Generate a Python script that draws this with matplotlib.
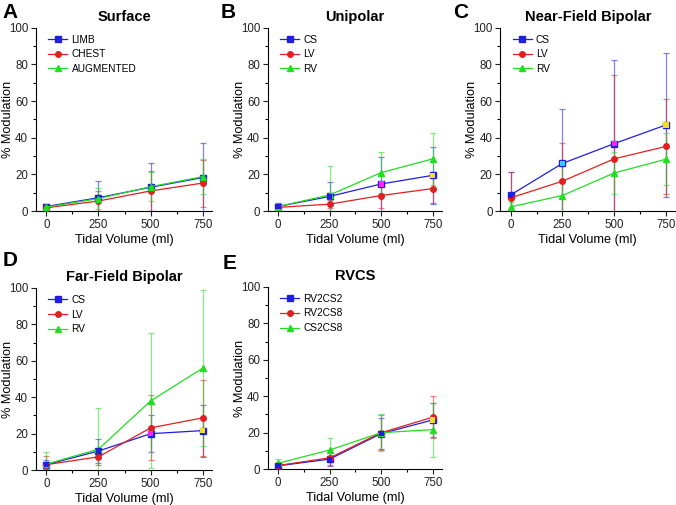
import numpy as np
import matplotlib
matplotlib.use('Agg')
import matplotlib.pyplot as plt

plt.rcParams['font.family'] = ['Liberation Sans', 'DejaVu Sans']

volume = [0, 250, 500, 750]

# A - Surface
surf_names = ['LIMB', 'CHEST', 'AUGMENTED']
surf_mean = [[2.5, 7.3, 13.0, 18.3],
             [1.8, 5.5, 11.0, 15.3],
             [2.2, 6.8, 13.3, 18.8]]
surf_sd = [[1.5, 9.2, 13.0, 18.7],
           [1.5, 5.5, 11.0, 12.8],
           [1.8, 5.7, 8.0, 9.7]]

# B - Unipolar
uni_names = ['CS', 'LV', 'RV']
uni_mean = [[2.5, 8.0, 14.8, 19.5],
            [2.0, 3.8, 8.5, 12.3],
            [2.5, 8.8, 21.0, 28.5]]
uni_sd = [[2.0, 8.0, 14.7, 15.5],
          [1.0, 2.0, 7.0, 7.8],
          [2.0, 15.7, 11.0, 14.0]]

# C - Near-Field Bipolar
nf_names = ['CS', 'LV', 'RV']
nf_mean = [[8.8, 26.0, 36.8, 47.0],
           [7.2, 16.3, 28.5, 35.3],
           [2.3, 8.5, 20.8, 28.3]]
nf_sd = [[12.7, 29.8, 45.7, 39.5],
         [14.3, 20.7, 45.5, 26.0],
         [2.7, 17.0, 11.7, 14.3]]

# D - Far-Field Bipolar
ff_names = ['CS', 'LV', 'RV']
ff_mean = [[3.0, 10.5, 20.0, 21.7],
           [3.0, 7.3, 23.2, 28.7],
           [3.3, 11.5, 38.0, 56.0]]
ff_sd = [[2.5, 6.8, 10.0, 14.3],
         [4.5, 4.3, 17.8, 20.8],
         [6.7, 22.5, 37.0, 43.0]]

# E - RVCS
rvcs_names = ['RV2CS2', 'RV2CS8', 'CS2CS8']
rvcs_mean = [[1.8, 5.5, 19.5, 27.0],
             [2.0, 6.2, 20.0, 28.5],
             [3.2, 10.5, 20.0, 21.7]]
rvcs_sd = [[1.0, 4.0, 8.5, 9.5],
           [1.0, 4.2, 9.5, 11.5],
           [2.3, 6.8, 10.0, 14.8]]

colors = ['#1f1fe0', '#e02020', '#22dd22']
markers = ['s', 'o', '^']

# odd marker colours the original software put on some points
blue, mag, yel, cya = '#1f1fe0', '#ff22ff', '#f0e020', '#30d0f0'
special = {
    'B': [blue, blue, mag, yel],
    'C': [blue, cya, mag, yel],
    'D': [blue, blue, mag, yel],
    'E': [blue, blue, blue, yel],
}

panels = [
    ('A', 'Surface', surf_names, surf_mean, surf_sd, [0.053, 0.582, 0.261, 0.363]),
    ('B', 'Unipolar', uni_names, uni_mean, uni_sd, [0.396, 0.582, 0.258, 0.363]),
    ('C', 'Near-Field Bipolar', nf_names, nf_mean, nf_sd, [0.740, 0.582, 0.259, 0.363]),
    ('D', 'Far-Field Bipolar', ff_names, ff_mean, ff_sd, [0.053, 0.069, 0.261, 0.361]),
    ('E', 'RVCS', rvcs_names, rvcs_mean, rvcs_sd, [0.396, 0.071, 0.258, 0.361]),
]
letter_pos = {'A': (0.004, 0.995), 'B': (0.326, 0.995), 'C': (0.670, 0.995),
              'D': (0.004, 0.502), 'E': (0.330, 0.497)}

fig = plt.figure(figsize=(6.76, 5.05), dpi=100)

for letter, title, names, means, sds, rect in panels:
    ax = fig.add_axes(rect)
    for i in range(3):
        ax.errorbar(volume, means[i], yerr=sds[i], color=colors[i], lw=0.9,
                    elinewidth=0.9, capsize=2, capthick=0.9, alpha=0.55,
                    fmt='none', zorder=2)
        ax.plot(volume, means[i], color=colors[i], lw=0.9, marker=markers[i],
                ms=4, mec=colors[i], mfc=colors[i], label=names[i], zorder=3)
    if letter in special:
        ax.scatter(volume, means[0], marker='s', s=14, c=special[letter],
                   zorder=4, linewidths=0)
    ax.set_xlim(-50, 795)
    ax.set_ylim(0, 100)
    ax.set_xticks(volume)
    ax.set_xticks([125, 375, 625], minor=True)
    ax.set_yticks(range(0, 101, 20))
    ax.set_yticks(range(10, 100, 20), minor=True)
    ax.spines['top'].set_visible(False)
    ax.spines['right'].set_visible(False)
    ax.tick_params(which='major', direction='out', length=3.5, width=0.8,
                   labelsize=8.3, colors='#222222', pad=2)
    ax.tick_params(which='minor', direction='out', length=2, width=0.8)
    ax.set_xlabel('Tidal Volume (ml)', fontsize=9.2, labelpad=2)
    ax.set_ylabel('% Modulation', fontsize=9.2)
    ax.yaxis.set_label_coords(-0.125, 0.5)
    ax.set_title(title, fontsize=10.5, fontweight='bold', pad=5)
    ax.legend(loc='upper left', frameon=False, fontsize=7.3, handlelength=1.9,
              handletextpad=0.4, labelspacing=0.45, borderaxespad=0.3,
              bbox_to_anchor=(0.03, 1.0))
    lx, ly = letter_pos[letter]
    fig.text(lx, ly, letter, fontsize=15, fontweight='bold', va='top', ha='left')

fig.savefig('out.png', dpi=100)
